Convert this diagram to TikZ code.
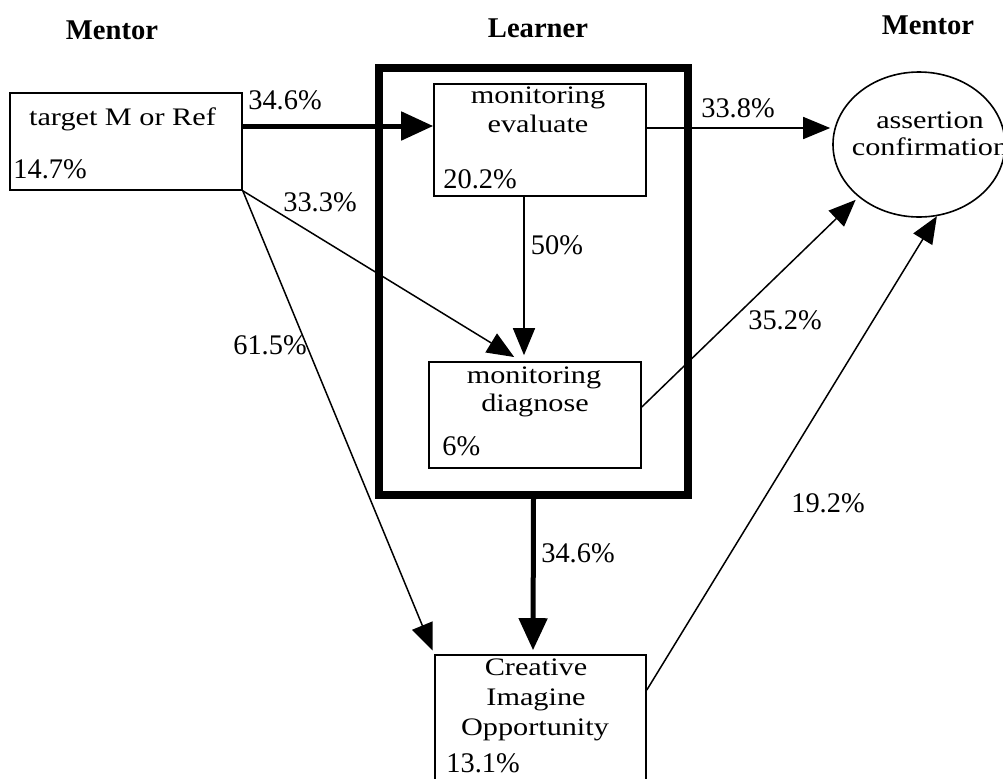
\documentclass[tikz,border=0pt]{standalone}
\usepackage{fontspec}
\setmainfont{Liberation Serif}
\newfontfamily\boxfont[FakeStretch=1.2]{Liberation Serif}
\usetikzlibrary{arrows.meta,shapes.geometric}

\begin{document}
\begin{tikzpicture}[x=0.5pt,y=-0.5pt,
    box/.style={draw, line width=0.8pt, inner sep=0pt},
    txt/.style={anchor=base, font=\boxfont\fontsize{12.6}{15}\selectfont},
    pct/.style={font=\fontsize{14.2}{16}\selectfont},
    boxpct/.style={anchor=base west, inner sep=0pt, font=\fontsize{14.2}{16}\selectfont},
    title/.style={font=\bfseries\fontsize{14.3}{16}\selectfont},
    flow/.style={-{Triangle[length=13.5pt,width=11pt]}, line width=0.75pt},
    bigflow/.style={-{Triangle[length=16pt,width=14pt]}, line width=2.5pt}]
          \clip (0,0) rectangle (1003,778);
          \node[title] (mentorL) at (112,30) {Mentor};
          \node[title] (learnerT) at (538,28) {Learner};
          \node[title] (mentorR) at (928,25) {Mentor};
          % boxes
          \node[draw, line width=4pt, inner sep=0pt, minimum width=154.5pt, minimum height=213.5pt] (learner) at (533.5,281.5) {};
          \node[box, minimum width=116pt, minimum height=48.5pt] (tgt) at (126,141.5) {};
          \node[box, minimum width=106pt, minimum height=56pt] (eval) at (540,140) {};
          \node[box, minimum width=106pt, minimum height=53pt] (diag) at (535,415) {};
          \node[box, minimum width=105.5pt, minimum height=67.5pt] (creat) at (540.5,722.5) {};
          \node[box, ellipse, minimum width=86pt, minimum height=72.5pt] (assert) at (919,144.5) {};
          % texts in the boxes
          \node[txt] (tgtA) at (122.5,125) {target M or Ref};
          \node[boxpct] (tgtP) at (13,178) {14.7\%};
          \node[txt] (evalA) at (538,103) {monitoring};
          \node[txt] (evalB) at (538,132) {evaluate};
          \node[boxpct] (evalP) at (443,188) {20.2\%};
          \node[txt] (diagA) at (534,383) {monitoring};
          \node[txt] (diagB) at (535,411) {diagnose};
          \node[boxpct] (diagP) at (442,455) {6\%};
          \node[txt] (creatA) at (536,675) {Creative};
          \node[txt] (creatB) at (536,705) {Imagine};
          \node[txt] (creatC) at (535,735) {Opportunity};
          \node[boxpct] (creatP) at (446,772) {13.1\%};
          \node[txt] (assertA) at (930,128) {assertion};
          \node[txt] (assertB) at (930,155) {confirmation};
          % arrows
          \draw[bigflow] ([yshift=7.75pt]tgt.east) -- ([yshift=7pt]eval.west);
          \draw[flow, shorten >=1pt] ([yshift=6pt]eval.east) -- ([yshift=8.25pt]assert.west);
          \draw[flow, shorten >=3pt] ([xshift=-8pt]eval.south) -- ([xshift=-5.5pt]diag.north);
          \draw[flow, shorten >=4pt] (tgt.south east) -- ([xshift=-7pt]diag.north);
          \draw[flow, shorten >=2pt] (tgt.south east) -- (creat.north west);
          \draw[flow, shorten >=2pt] ([yshift=4pt]diag.east) -- (assert.221);
          \draw[bigflow, shorten >=2pt] (learner.south) -- ([xshift=-3.75pt]creat.north);
          \draw[flow] ([yshift=16.25pt]creat.east) -- (assert.284);
          % percentages
          \node[pct] (p1) at (285,100) {34.6\%};
          \node[pct] (p2) at (738,108) {33.8\%};
          \node[pct] (p3) at (557,245) {50\%};
          \node[pct] (p4) at (320,202) {33.3\%};
          \node[pct] (p5) at (270,345) {61.5\%};
          \node[pct] (p6) at (785,320) {35.2\%};
          \node[pct] (p7) at (578,553) {34.6\%};
          \node[pct] (p8) at (828,503) {19.2\%};
        \end{tikzpicture}
\end{document}
